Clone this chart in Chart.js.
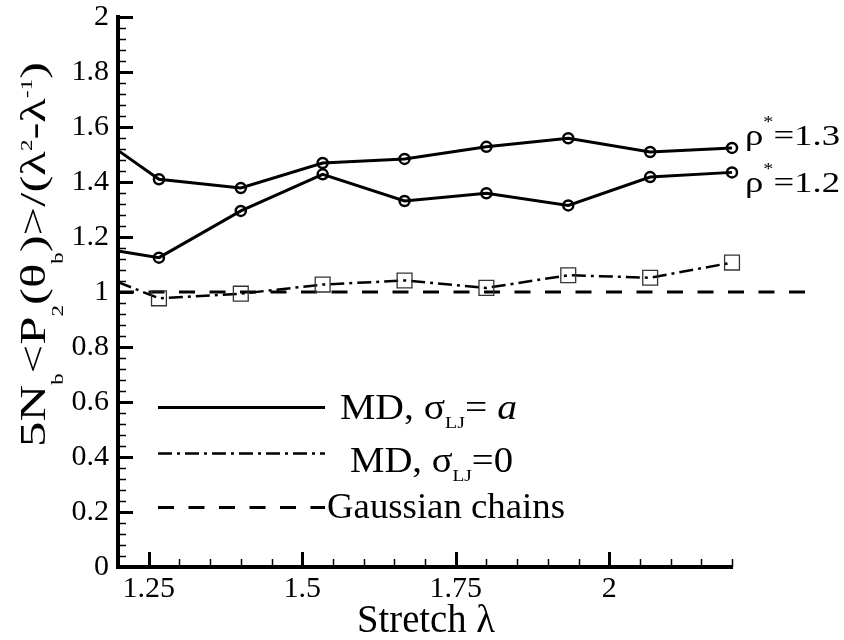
<!DOCTYPE html>
<html>
<head>
<meta charset="utf-8">
<script src="https://cdn.jsdelivr.net/npm/chart.js@4.4.1/dist/chart.umd.min.js"></script>
<style>
  html, body { margin: 0; padding: 0; background: #fff; }
  #wrap { width: 844px; height: 640px; position: relative; }
</style>
</head>
<body>
<div id="wrap"><canvas id="chart"></canvas></div>
<script>
// stretch values (x) and order parameter values (y)
const lambdaVals = [1.2, 1.2667, 1.4, 1.5333, 1.6667, 1.8, 1.9333, 2.0667, 2.2];
const rho13Vals = [1.515, 1.41, 1.378, 1.469, 1.484, 1.528, 1.559, 1.509, 1.524];
const rho12Vals = [1.149, 1.125, 1.295, 1.428, 1.331, 1.359, 1.315, 1.418, 1.435];
const sigma0Lambda = [1.2, 1.2667, 1.4, 1.5333, 1.6667, 1.8, 1.9333, 2.0667, 2.2, 2.37];
const sigma0Vals = [1.036, 0.977, 0.994, 1.027, 1.042, 1.015, 1.061, 1.052, 1.107, 1.115];
const gaussLambda = [1.2, 2.324];
const gaussVals = [1, 1];

const yTickLabels = ['0', '0.2', '0.4', '0.6', '0.8', '1', '1.2', '1.4', '1.6', '1.8', '2'];
const xTickLabels = ['1.25', '1.5', '1.75', '2'];

const FONT = '"Liberation Serif", "Times New Roman", serif';

const toPts = (xs, ys) => xs.map((x, i) => ({ x: x, y: ys[i] }));

// rich text: parts with optional sub / sup / italic
function partFont(p, size) {
    const s = p.sub || p.sup ? size * (p.scale || 0.5) : size;
    return (p.italic ? 'italic ' : '') + s + 'px ' + FONT;
}

function drawRich(ctx, parts, x, y, size, fitWidth, angle) {
    let total = 0;
    const widths = parts.map(p => {
        ctx.font = partFont(p, size);
        const w = ctx.measureText(p.t).width;
        total += w;
        return w;
    });
    const sx = fitWidth ? fitWidth / total : 1;
    ctx.save();
    ctx.translate(x, y);
    if (angle) ctx.rotate(angle);
    ctx.scale(sx, 1);
    ctx.textAlign = 'left';
    ctx.textBaseline = 'alphabetic';
    let cx = 0;
    parts.forEach((p, i) => {
        ctx.font = partFont(p, size);
        let dy = 0;
        if (p.sub) dy = size * (p.dy || 0.3);
        if (p.sup) dy = -size * (p.dy || 0.4);
        ctx.fillText(p.t, cx, dy);
        cx += widths[i];
    });
    ctx.restore();
}

const yTitleParts = [
    { t: '5N' }, { t: 'b', sub: true, dy: 0.5, scale: 0.45 },
    { t: '<P' }, { t: '2', sub: true, dy: 0.5, scale: 0.45 },
    { t: '(θ' }, { t: 'b', sub: true, dy: 0.5, scale: 0.45 },
    { t: ')>/(λ' }, { t: '2', sup: true, dy: 0.38, scale: 0.45 },
    { t: '-λ' }, { t: '-1', sup: true, dy: 0.38, scale: 0.45 },
    { t: ')' }
];
const xTitleParts = [{ t: 'Stretch λ' }];
const rho13Parts = [{ t: 'ρ' }, { t: '*', sup: true, dy: 0.6, scale: 0.55 }, { t: '=1.3' }];
const rho12Parts = [{ t: 'ρ' }, { t: '*', sup: true, dy: 0.6, scale: 0.55 }, { t: '=1.2' }];
const legendParts = [
    [{ t: 'MD, σ' }, { t: 'LJ', sub: true, dy: 0.26, scale: 0.5 }, { t: '= ' }, { t: 'a', italic: true }],
    [{ t: 'MD, σ' }, { t: 'LJ', sub: true, dy: 0.26, scale: 0.5 }, { t: '=0' }],
    [{ t: 'Gaussian chains' }]
];

const decor = {
    id: 'decor',
    afterDraw(chart) {
        const ctx = chart.ctx;
        const xs = chart.scales.x;
        const ys = chart.scales.y;
        const ca = chart.chartArea;
        ctx.save();
        ctx.strokeStyle = '#000';
        ctx.fillStyle = '#000';
        ctx.setLineDash([]);

        // inward tick marks, y axis
        for (let i = 0; i <= 50; i++) {
            const py = Math.round(ys.getPixelForValue(i * 0.04)) + 0.5;
            const major = i % 5 === 0;
            ctx.lineWidth = major ? 3 : 1.5;
            ctx.beginPath();
            ctx.moveTo(ca.left, py);
            ctx.lineTo(ca.left + (major ? 15 : 8), py);
            ctx.stroke();
        }
        // inward tick marks, x axis
        for (let i = 1; i <= 20; i++) {
            const v = 1.2 + i * 0.05;
            const px = Math.round(xs.getPixelForValue(v)) + 0.5;
            const major = (i - 1) % 5 === 0;
            ctx.lineWidth = major ? 3 : 1.5;
            ctx.beginPath();
            ctx.moveTo(px, ca.bottom);
            ctx.lineTo(px, ca.bottom - (major ? 15 : 8));
            ctx.stroke();
        }

        // tick labels
        ctx.font = '30px ' + FONT;
        ctx.textAlign = 'right';
        ctx.textBaseline = 'middle';
        yTickLabels.forEach(l => {
            ctx.fillText(l, ca.left - 9, ys.getPixelForValue(Number(l)));
        });
        ctx.textAlign = 'center';
        ctx.textBaseline = 'alphabetic';
        xTickLabels.forEach(l => {
            ctx.fillText(l, xs.getPixelForValue(Number(l)), ca.bottom + 30);
        });

        // axis titles
        drawRich(ctx, xTitleParts, 357, 632, 39, 138);
        drawRich(ctx, yTitleParts, 45, 447, 35, 385, -Math.PI / 2);

        // series labels
        drawRich(ctx, rho13Parts, 745, 145, 30, 95);
        drawRich(ctx, rho12Parts, 745, 192, 30, 95);

        // legend
        const rows = [
            { ds: 0, ly: 407.5, tx: 340, ty: 419, w: 177 },
            { ds: 2, ly: 453.5, tx: 350, ty: 472, w: 163 },
            { ds: 3, ly: 507.5, tx: 327, ty: 518, w: 238 }
        ];
        rows.forEach((r, i) => {
            const d = chart.data.datasets[r.ds];
            ctx.strokeStyle = '#000';
            ctx.lineWidth = d.borderWidth;
            ctx.setLineDash(d.borderDash || []);
            ctx.beginPath();
            ctx.moveTo(158, r.ly);
            ctx.lineTo(325, r.ly);
            ctx.stroke();
            ctx.setLineDash([]);
            drawRich(ctx, legendParts[i], r.tx, r.ty, 35, r.w);
        });
        ctx.restore();
    }
};

const solidStyle = {
    borderColor: '#000',
    borderWidth: 3,
    showLine: true,
    clip: false,
    pointStyle: 'circle',
    pointRadius: c => (c.dataIndex === 0 ? 0 : 5),
    pointBorderWidth: 2.5,
    pointBorderColor: '#000',
    pointBackgroundColor: 'rgba(0,0,0,0)'
};

new Chart(document.getElementById('chart'), {
    type: 'scatter',
    data: {
        datasets: [
            Object.assign({ label: 'ρ*=1.3', data: toPts(lambdaVals, rho13Vals) }, solidStyle),
            Object.assign({ label: 'ρ*=1.2', data: toPts(lambdaVals, rho12Vals) }, solidStyle),
            {
                label: 'MD, σLJ=0',
                data: toPts(sigma0Lambda, sigma0Vals),
                borderColor: '#000',
                borderWidth: 2.5,
                borderDash: [14, 5, 3, 5],
                showLine: true,
                clip: false,
                segment: {
                    borderColor: c => (c.p1DataIndex === sigma0Vals.length - 1 ? '#c8c8c8' : '#000')
                },
                pointStyle: 'rect',
                pointRadius: c => (c.dataIndex === 0 || c.dataIndex === sigma0Vals.length - 1 ? 0 : 10.5),
                pointBorderWidth: 1.3,
                pointBorderColor: '#333',
                pointBackgroundColor: 'rgba(0,0,0,0)'
            },
            {
                label: 'Gaussian chains',
                data: toPts(gaussLambda, gaussVals),
                borderColor: '#000',
                borderWidth: 3,
                borderDash: [16, 14.5],
                showLine: true,
                clip: false,
                pointRadius: 0
            }
        ]
    },
    options: {
        responsive: true,
        maintainAspectRatio: false,
        devicePixelRatio: 1,
        animation: false,
        layout: { padding: { left: 118, right: 112, top: 17, bottom: 73 } },
        plugins: {
            legend: { display: false },
            tooltip: { enabled: false }
        },
        scales: {
            x: {
                type: 'linear',
                min: 1.2,
                max: 2.2,
                ticks: { display: false },
                grid: { drawOnChartArea: false, drawTicks: false },
                border: { display: true, width: 4, color: '#000' }
            },
            y: {
                type: 'linear',
                min: 0,
                max: 2,
                ticks: { display: false },
                grid: { drawOnChartArea: false, drawTicks: false },
                border: { display: true, width: 4, color: '#000' }
            }
        }
    },
    plugins: [decor]
});
</script>
</body>
</html>
